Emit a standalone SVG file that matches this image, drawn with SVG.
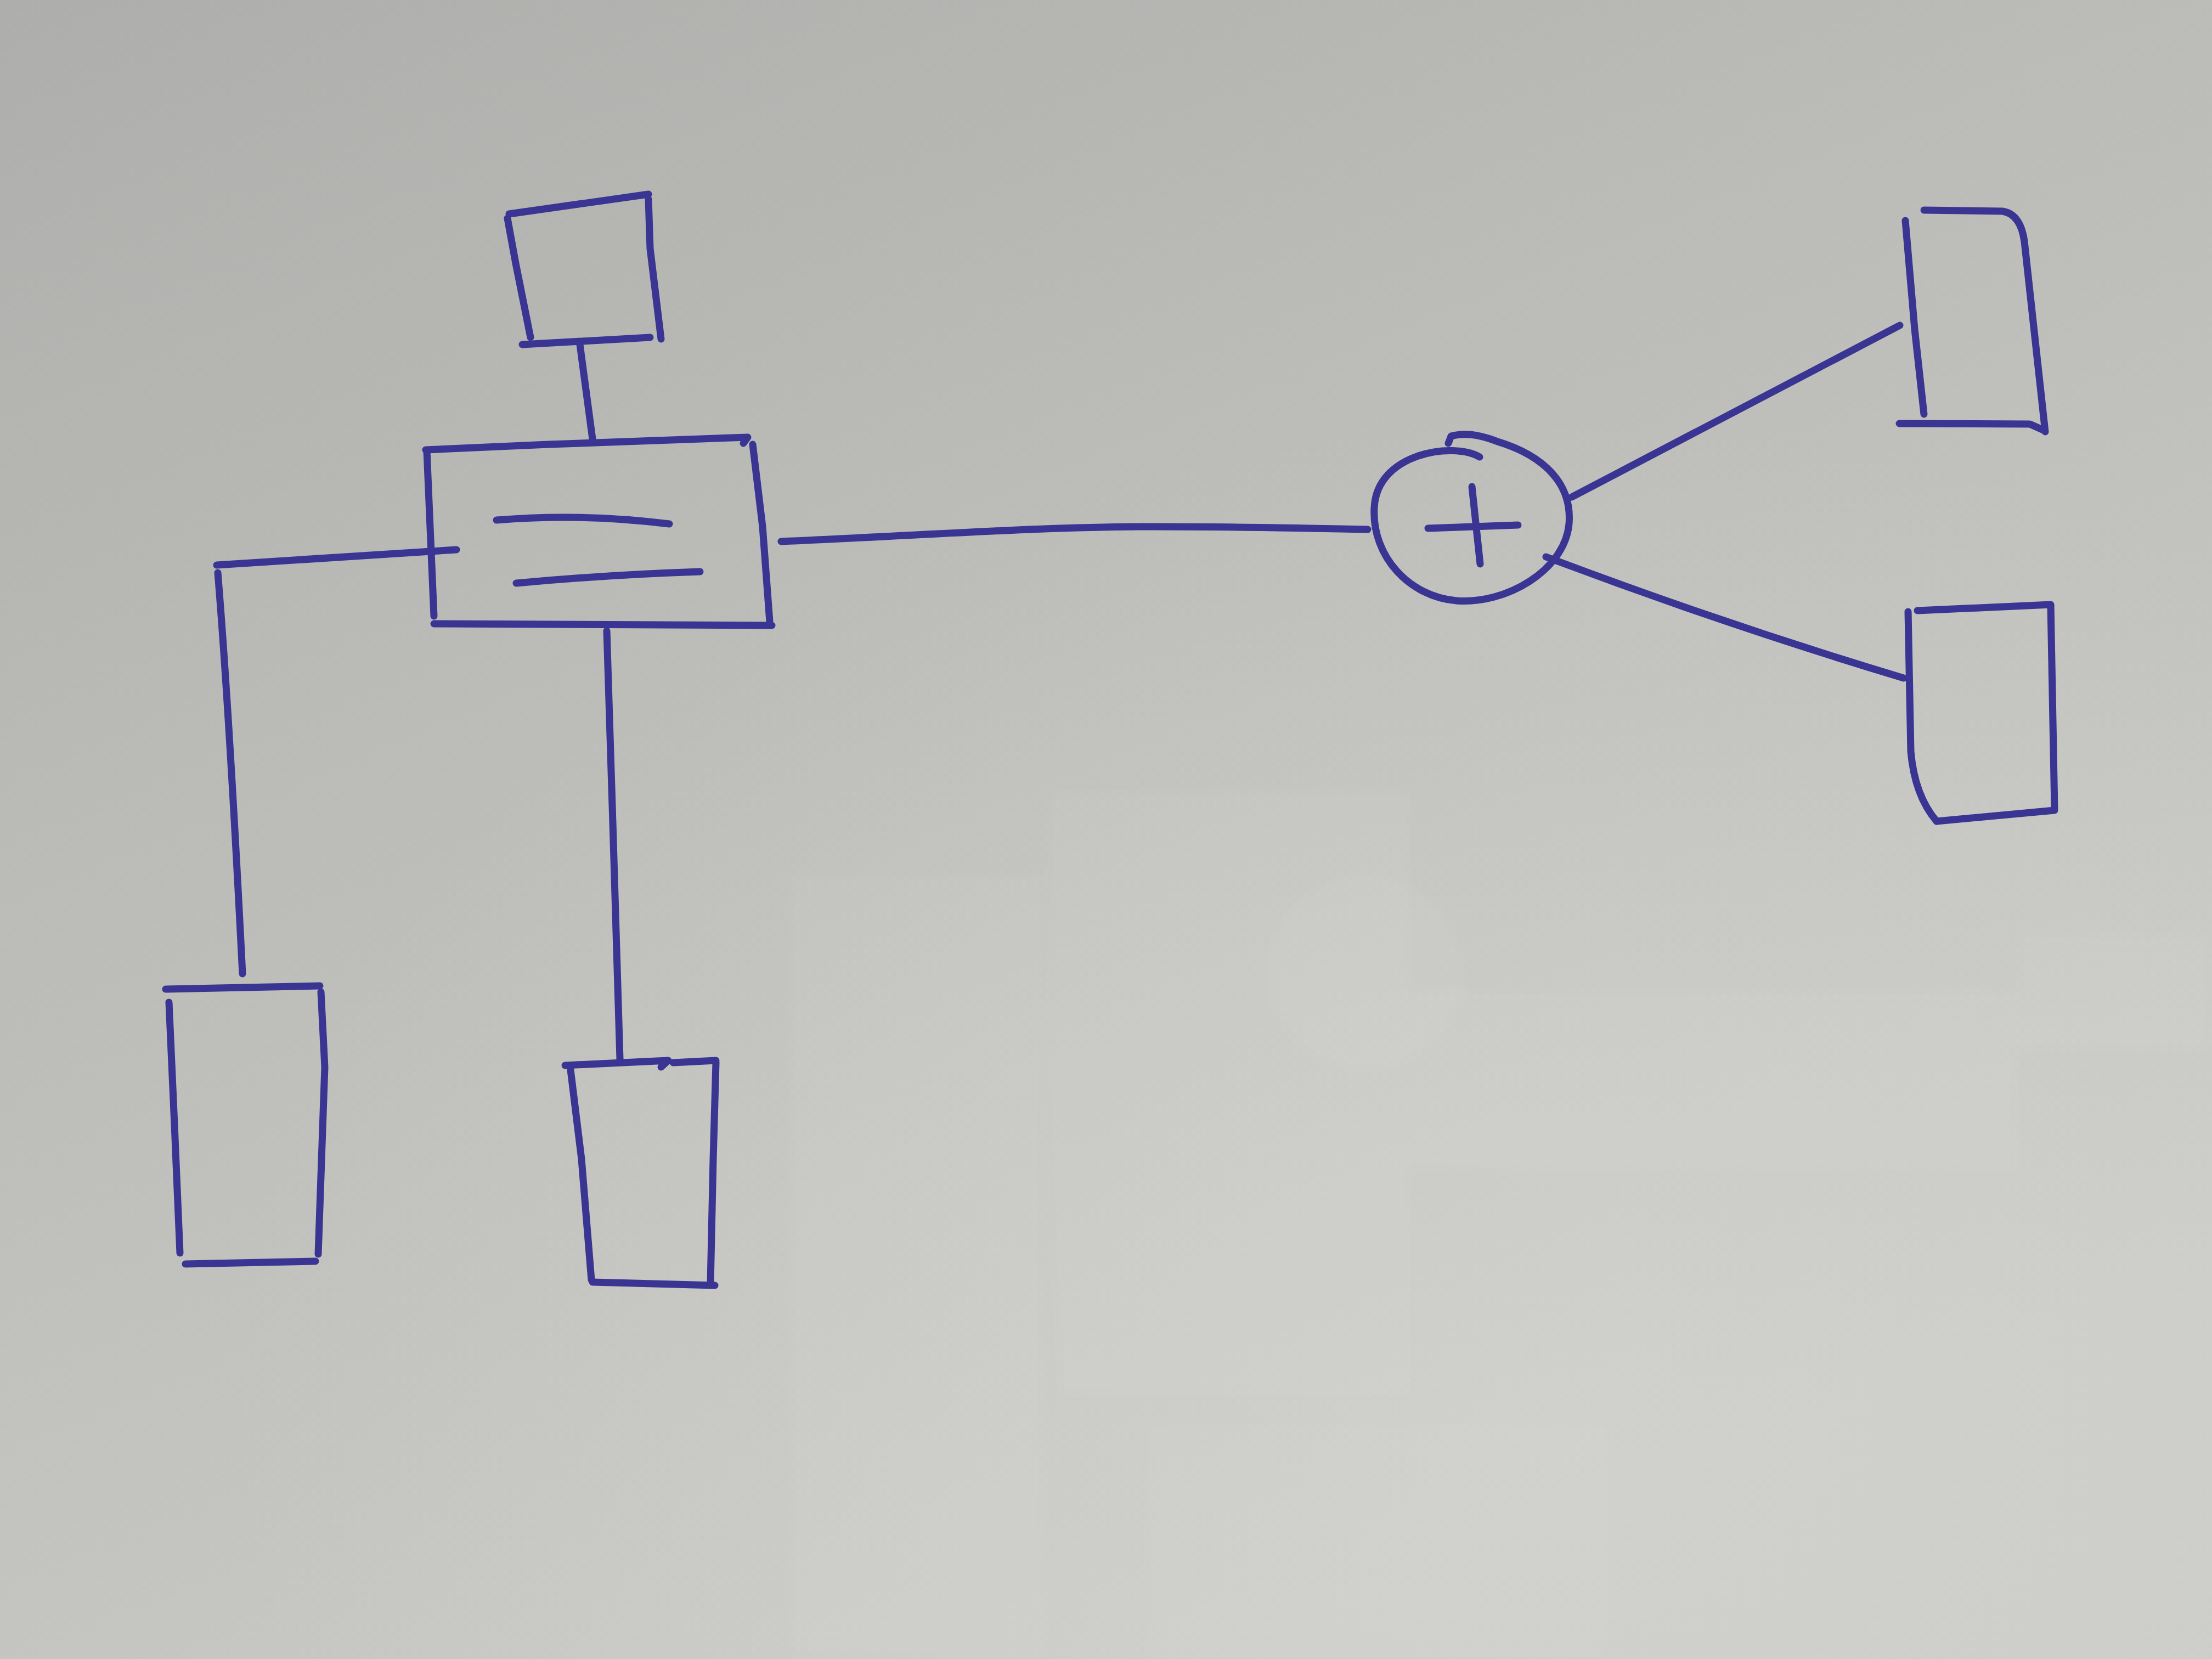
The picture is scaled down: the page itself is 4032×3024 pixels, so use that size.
<svg xmlns="http://www.w3.org/2000/svg" width="4032" height="3024" viewBox="0 0 4032 3024">
  <defs>
    <linearGradient id="paper" x1="0" y1="0" x2="0.55" y2="1">
      <stop offset="0" stop-color="#aeaeac"/>
      <stop offset="0.45" stop-color="#bcbcb9"/>
      <stop offset="1" stop-color="#cbcbc7"/>
    </linearGradient>
    <radialGradient id="glow" cx="0.7" cy="0.85" r="0.6">
      <stop offset="0" stop-color="#d6d6d2" stop-opacity="0.5"/>
      <stop offset="1" stop-color="#d6d6d2" stop-opacity="0"/>
    </radialGradient>
    <filter id="soft" x="-10%" y="-10%" width="120%" height="120%">
      <feGaussianBlur stdDeviation="8"/>
    </filter>
  </defs>
  <style>
    .ink { fill: none; stroke: #3a3493; stroke-width: 13; stroke-linecap: round; stroke-linejoin: round; }
    .ghost { fill: #ffffff; opacity: 0.04; }
  </style>

  <!-- paper -->
  <g id="paper-bg">
    <rect x="0" y="0" width="4032" height="3024" fill="url(#paper)"/>
    <rect x="0" y="0" width="4032" height="3024" fill="url(#glow)"/>
    <g filter="url(#soft)">
      <path class="ghost" d="M1916,1440 Q1890,2000 1930,2546 L2571,2546 L2571,1440 Z"/>
      <circle class="ghost" cx="2489" cy="1774" r="180"/>
      <rect class="ghost" x="2571" y="1800" width="1106" height="334"/>
      <rect class="ghost" x="2096" y="2597" width="835" height="427"/>
      <rect class="ghost" x="3677" y="1697" width="355" height="219"/>
      <rect class="ghost" x="1440" y="1594" width="463" height="1430"/>
    </g>
  </g>

  <!-- connectors -->
  <g id="connectors">
    <path class="ink" d="M1057,628 L1080,800"/>
    <path class="ink" d="M832,1002 L395,1030"/>
    <path class="ink" d="M397,1044 Q418,1300 442,1775"/>
    <path class="ink" d="M1106,1150 L1117,1500 L1130,1930"/>
    <path class="ink" d="M1424,987 C1700,975 1900,960 2100,960 S2400,964 2493,965"/>
    <path class="ink" d="M2865,906 L3463,593"/>
    <path class="ink" d="M2818,1015 Q3144,1138 3470,1236"/>
  </g>

  <!-- upper box -->
  <g id="node-top">
    <path class="ink" d="M928,390 L1182,354"/>
    <path class="ink" d="M1182,363 L1185,453 L1205,618"/>
    <path class="ink" d="M925,398 L940,480 L967,615"/>
    <path class="ink" d="M952,628 L1185,615"/>
  </g>

  <!-- central block with the two bars -->
  <g id="node-main">
    <path class="ink" d="M776,820 L1000,810 L1363,797 L1355,808"/>
    <path class="ink" d="M1372,810 L1390,960 L1403,1133"/>
    <path class="ink" d="M778,822 L791,1123"/>
    <path class="ink" d="M791,1137 L1407,1140"/>
    <path class="ink" d="M905,948 Q1060,935 1220,955"/>
    <path class="ink" d="M941,1063 Q1100,1048 1276,1042"/>
  </g>

  <!-- lower left box -->
  <g id="node-bottom-left">
    <path class="ink" d="M302,1803 L583,1797"/>
    <path class="ink" d="M308,1827 L318,2050 L328,2284"/>
    <path class="ink" d="M585,1808 L592,1945 L580,2286"/>
    <path class="ink" d="M338,2304 L575,2299"/>
  </g>

  <!-- lower middle box -->
  <g id="node-bottom-mid">
    <path class="ink" d="M1030,1942 L1218,1933 L1205,1945"/>
    <path class="ink" d="M1227,1937 L1305,1933"/>
    <path class="ink" d="M1040,1950 L1060,2113 L1078,2333"/>
    <path class="ink" d="M1305,1937 L1300,2113 L1295,2340"/>
    <path class="ink" d="M1080,2337 L1303,2343"/>
  </g>

  <!-- summing junction -->
  <g id="node-sum">
    <path class="ink" d="M2697,833 C2650,805 2510,825 2505,925 C2500,1015 2570,1088 2655,1095 C2745,1102 2852,1040 2860,955 C2866,880 2812,830 2730,805 Q2680,785 2645,795 L2640,808"/>
    <path class="ink" d="M2603,963 L2767,957"/>
    <path class="ink" d="M2683,887 L2698,1028"/>
  </g>

  <!-- upper right box -->
  <g id="node-right-top">
    <path class="ink" d="M3507,383 L3650,385 Q3683,390 3690,440 L3728,787"/>
    <path class="ink" d="M3473,402 L3490,600 L3507,755"/>
    <path class="ink" d="M3462,772 L3700,773 L3727,785"/>
  </g>

  <!-- lower right box -->
  <g id="node-right-bottom">
    <path class="ink" d="M3495,1113 L3738,1102"/>
    <path class="ink" d="M3738,1103 L3745,1475"/>
    <path class="ink" d="M3745,1477 L3530,1497"/>
    <path class="ink" d="M3478,1115 L3483,1370 Q3490,1450 3530,1497"/>
  </g>
</svg>
